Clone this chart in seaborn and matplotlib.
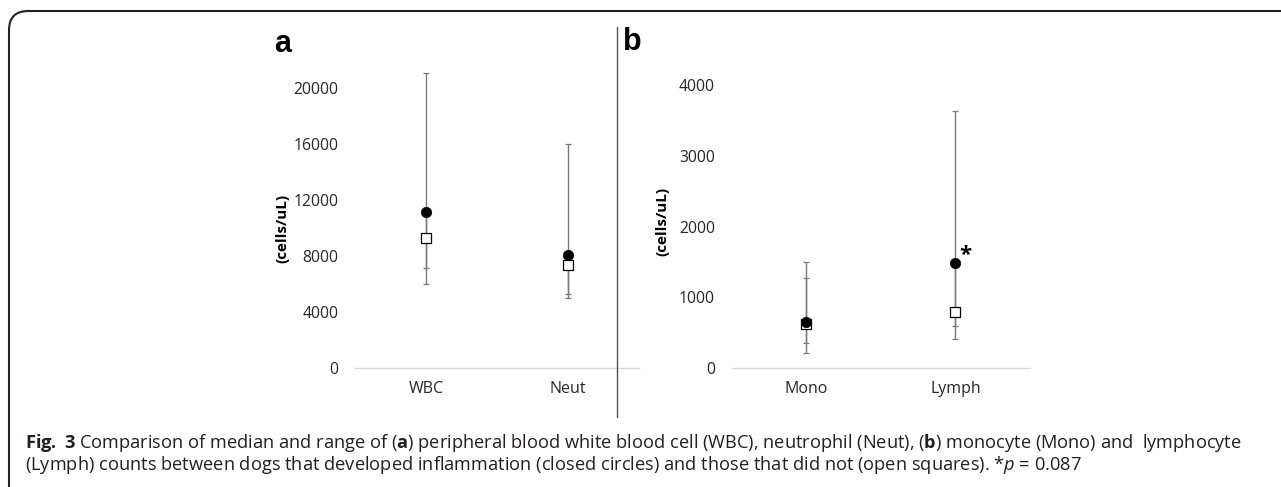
import numpy as np
import pandas as pd
import matplotlib
matplotlib.use("Agg")
import matplotlib.pyplot as plt
from matplotlib.patches import FancyBboxPatch
from matplotlib.lines import Line2D
import seaborn as sns

# ---- data (cells/uL): medians and ranges --------------------------------
cats_a = ["WBC", "Neut"]
infl_med_a = [11200, 8100]
infl_lo_a = [7200, 5300]
infl_hi_a = [21100, 16000]
none_med_a = [9300, 7350]
none_lo_a = [6000, 5000]
none_hi_a = [11000, 8100]

cats_b = ["Mono", "Lymph"]
infl_med_b = [660, 1480]
infl_lo_b = [360, 600]
infl_hi_b = [1500, 3630]
none_med_b = [630, 790]
none_lo_b = [210, 410]
none_hi_b = [1270, 1480]

yticks_a = [0, 4000, 8000, 12000, 16000, 20000]
yticks_b = [0, 1000, 2000, 3000, 4000]

caption_1 = (r"$\mathbf{Fig.}$ $\mathbf{3}$ Comparison of median and range of ($\mathbf{a}$) peripheral blood "
             r"white blood cell (WBC), neutrophil (Neut), ($\mathbf{b}$) monocyte (Mono) and  lymphocyte")
caption_2 = (r"(Lymph) counts between dogs that developed inflammation (closed circles) and those "
             r"that did not (open squares). *$p$ = 0.087")

sns.set_theme(style="white")
plt.rcParams["font.family"] = ["Open Sans", "DejaVu Sans"]
plt.rcParams["mathtext.fontset"] = "custom"
plt.rcParams["mathtext.rm"] = "Open Sans"
plt.rcParams["mathtext.bf"] = "Open Sans:bold"
plt.rcParams["mathtext.it"] = "Open Sans:italic"

W, H = 1281, 487
fig = plt.figure(figsize=(W / 100, H / 100), dpi=100)
fig.patch.set_facecolor("white")

BAR = "#7a7a7a"
TXT = "#262626"


def panel(rect, cats, im, ilo, ihi, nm, nlo, nhi, ymax, yticks, label_xy):
    ax = fig.add_axes(rect)
    df_i = pd.DataFrame({"cat": cats, "val": im})
    df_n = pd.DataFrame({"cat": cats, "val": nm})
    x = np.arange(len(cats))
    # range whiskers for both groups
    for med, lo, hi in ((nm, nlo, nhi), (im, ilo, ihi)):
        med = np.asarray(med, float)
        err = [med - np.asarray(lo), np.asarray(hi) - med]
        ax.errorbar(x, med, yerr=err, fmt="none", ecolor=BAR, elinewidth=1.0,
                    capsize=2.4, capthick=0.9, zorder=2)
    sns.scatterplot(data=df_n, x="cat", y="val", marker="s", s=48,
                    facecolor="white", edgecolor="black", linewidth=0.9,
                    ax=ax, zorder=3)
    sns.scatterplot(data=df_i, x="cat", y="val", marker="o", s=56,
                    color="black", edgecolor="black", linewidth=0.5,
                    ax=ax, zorder=4)
    ax.set_xlim(-0.5, len(cats) - 0.5)
    ax.set_ylim(0, ymax)
    ax.set_yticks(yticks)
    ax.set_yticklabels([str(t) for t in yticks])
    ax.set_xticks(x)
    ax.set_xticklabels(cats)
    ax.set_xlabel("")
    ax.set_ylabel("(cells/uL)", fontsize=11, fontweight="bold", color="black")
    ax.yaxis.set_label_coords(*label_xy)
    for s in ("top", "right", "left"):
        ax.spines[s].set_visible(False)
    ax.spines["bottom"].set_color("#d9d9d9")
    ax.spines["bottom"].set_linewidth(1.0)
    ax.tick_params(axis="y", length=0, pad=12, labelsize=11.3, labelcolor=TXT)
    ax.tick_params(axis="x", length=0, pad=9, labelsize=11.5, labelcolor=TXT)
    ax.set_facecolor("none")
    return ax


ax_a = panel([355 / W, (H - 368.3) / H, 284 / W, 336 / H], cats_a,
             infl_med_a, infl_lo_a, infl_hi_a, none_med_a, none_lo_a, none_hi_a,
             24000, yticks_a, (-0.232, 0.415))
ax_b = panel([731.7 / W, (H - 368.3) / H, 298.3 / W, 318.7 / H], cats_b,
             infl_med_b, infl_lo_b, infl_hi_b, none_med_b, none_lo_b, none_hi_b,
             4500, yticks_b, (-0.209, 0.46))

# significance marker next to the Lymph median
ax_b.annotate("*", xy=(1, infl_med_b[1]), xytext=(7, 6), textcoords="offset points",
              ha="center", va="center", fontsize=16, fontweight="bold", color="black")

# panel letters
fig.text(274 / W, 1 - 51.5 / H, "a", fontsize=22, fontweight="bold",
         family="Liberation Sans", va="baseline", ha="left", color="black")
fig.text(623 / W, 1 - 50 / H, "b", fontsize=22, fontweight="bold",
         family="Liberation Sans", va="baseline", ha="left", color="black")

# divider between panels
fig.add_artist(Line2D([617 / W, 617 / W], [1 - 27 / H, 1 - 417 / H],
                      transform=fig.transFigure, color="#555555", linewidth=1.0))

# rounded frame around the figure block
frame = FancyBboxPatch((9 / W, -0.2), 1.2, 1 - 11 / H + 0.2,
                       boxstyle="round,pad=0,rounding_size=0.015",
                       transform=fig.transFigure, facecolor="none",
                       edgecolor="#222222", linewidth=1.5,
                       mutation_aspect=W / H)
fig.add_artist(frame)

# caption
fig.text(25 / W, 1 - 442.5 / H, caption_1, fontsize=13.15, color="#231f20",
         va="center", ha="left")
fig.text(25 / W, 1 - 465 / H, caption_2, fontsize=13.15, color="#231f20",
         va="center", ha="left")

fig.savefig("out.png", dpi=100, facecolor="white")
